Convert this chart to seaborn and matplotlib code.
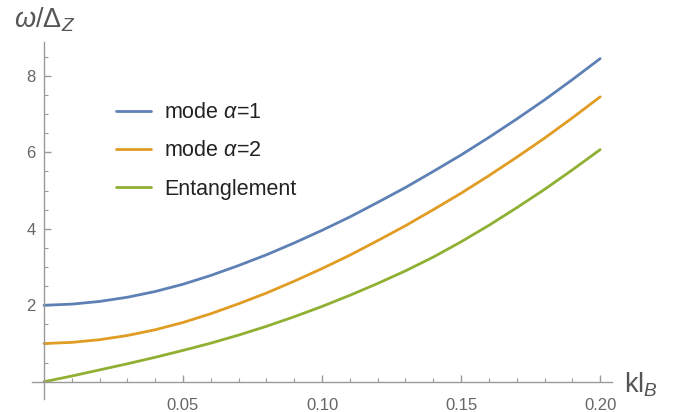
import numpy as np
import pandas as pd
import matplotlib
matplotlib.use("Agg")
import matplotlib.pyplot as plt
from matplotlib.ticker import MultipleLocator, FixedLocator
import seaborn as sns

# values
k = [0.00, 0.01, 0.02, 0.03, 0.04, 0.05, 0.06, 0.07, 0.08, 0.09, 0.10,
     0.11, 0.12, 0.13, 0.14, 0.15, 0.16, 0.17, 0.18, 0.19, 0.20]
mode1 = [2.00, 2.03, 2.10, 2.21, 2.36, 2.55, 2.78, 3.04, 3.32, 3.63, 3.96,
         4.31, 4.69, 5.08, 5.50, 5.93, 6.39, 6.87, 7.37, 7.90, 8.45]
mode2 = [1.00, 1.03, 1.10, 1.21, 1.36, 1.55, 1.78, 2.04, 2.32, 2.63, 2.96,
         3.31, 3.69, 4.08, 4.50, 4.93, 5.39, 5.87, 6.37, 6.90, 7.45]
entangle = [0.00, 0.15, 0.31, 0.47, 0.64, 0.82, 1.01, 1.22, 1.45, 1.70, 1.97,
            2.26, 2.57, 2.90, 3.26, 3.66, 4.09, 4.55, 5.03, 5.54, 6.07]
labels = ["mode $\\alpha$=1", "mode $\\alpha$=2", "Entanglement"]
colors = ["#5E81B5", "#E19C24", "#8FB032"]

df = pd.DataFrame({
    "k": k * 3,
    "w": mode1 + mode2 + entangle,
    "curve": [labels[0]] * len(k) + [labels[1]] * len(k) + [labels[2]] * len(k),
})

sns.set_theme(style="white")
plt.rcParams["font.family"] = ["Liberation Sans", "DejaVu Sans"]
plt.rcParams["mathtext.fontset"] = "custom"
plt.rcParams["mathtext.rm"] = "Liberation Sans"
plt.rcParams["mathtext.it"] = "Liberation Sans:italic"

fig = plt.figure(figsize=(6.89, 4.12), dpi=100)
ax = fig.add_axes([0.0464, 0.0316, 0.842, 0.867])

sns.lineplot(data=df, x="k", y="w", hue="curve", palette=colors,
             linewidth=2.0, ax=ax)

ax.set_xlim(-0.0043, 0.2043)
ax.set_ylim(-0.45, 8.89)

# Mathematica style axes crossing at the origin
for s in ["top", "right"]:
    ax.spines[s].set_visible(False)
ax.spines["left"].set_position(("data", 0))
ax.spines["bottom"].set_position(("data", 0))
for s in ["left", "bottom"]:
    ax.spines[s].set_color("#9a9a9a")
    ax.spines[s].set_linewidth(1.0)

ax.xaxis.set_major_locator(FixedLocator([0.05, 0.10, 0.15, 0.20]))
ax.xaxis.set_minor_locator(MultipleLocator(0.01))
ax.set_xticklabels(["0.05", "0.10", "0.15", "0.20"])
ax.yaxis.set_major_locator(FixedLocator([2, 4, 6, 8]))
ax.yaxis.set_minor_locator(MultipleLocator(0.5))
ax.set_yticklabels(["2", "4", "6", "8"])
ax.tick_params(which="both", direction="in", color="#9a9a9a",
               labelcolor="#666666", labelsize=12)
ax.tick_params(which="major", length=5, width=1.0)
ax.tick_params(which="minor", length=3, width=0.8)
ax.tick_params(axis="x", which="both", bottom=True, pad=12)
ax.tick_params(axis="y", which="both", left=True, pad=6)

ax.set_xlabel("")
ax.set_ylabel("")
fig.text(0.02, 0.953, "$\\omega/\\Delta_Z$", fontsize=19.5, color="#555555",
         va="center", ha="left")
fig.text(0.905, 0.067, "kl$_B$", fontsize=19.5, color="#555555",
         va="center", ha="left")

leg = ax.legend(loc="upper left", bbox_to_anchor=(0.112, 0.885), frameon=False,
                fontsize=15.5, handlelength=1.63, handletextpad=0.6,
                labelspacing=0.8)
for t in leg.get_texts():
    t.set_color("#222222")

fig.savefig("out.png", dpi=100)
